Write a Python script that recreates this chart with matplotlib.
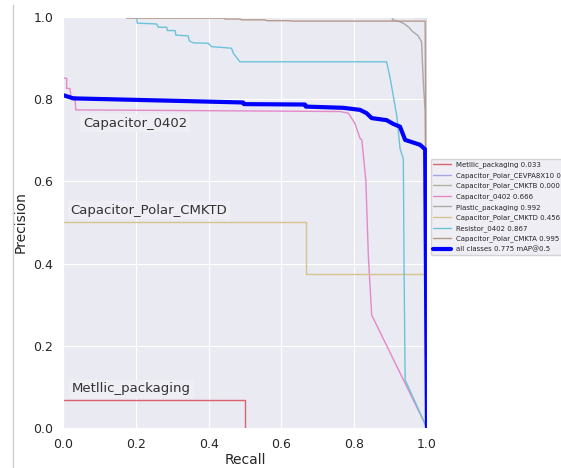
import matplotlib
matplotlib.use("Agg")
import matplotlib.pyplot as plt
import seaborn as sns
from matplotlib.lines import Line2D

sns.set_style("darkgrid")
plt.rcParams['font.family'] = ['DejaVu Sans']

# per-class PR curves
names = ["Metllic_packaging", "Capacitor_Polar_CEVPA8X10", "Capacitor_Polar_CMKTB",
         "Capacitor_0402", "Plastic_packaging", "Capacitor_Polar_CMKTD",
         "Resistor_0402", "Capacitor_Polar_CMKTA"]
ap = [0.033, 0.000, 0.000, 0.666, 0.992, 0.456, 0.867, 0.995]
colors = ["#d9646e", "#a8a4e6", "#b4ada2", "#e488c8", "#a9a9a9", "#d5c48e",
          "#6cc3d8", "#b59a8c"]

metllic_r = [0.0, 0.5, 0.5]
metllic_p = [0.067, 0.067, 0.0]

cevpa_r = [0.965, 1.0, 1.0]
cevpa_p = [1.0, 1.0, 0.0]

cmktb_r = [1.0, 1.0]
cmktb_p = [1.0, 0.0]

c0402_r = [0.0, 0.0, 0.010, 0.010, 0.019, 0.022, 0.033, 0.035, 0.40, 0.761, 0.784,
           0.802, 0.816, 0.821, 0.827, 0.832, 0.839, 0.848, 1.0]
c0402_p = [1.0, 0.851, 0.851, 0.826, 0.826, 0.806, 0.806, 0.774, 0.772, 0.770, 0.766,
           0.741, 0.705, 0.701, 0.648, 0.603, 0.417, 0.275, 0.0]

plastic_r = [0.905, 0.905, 0.92, 0.935, 0.95, 0.96, 0.975, 0.985, 0.99, 0.995, 1.0]
plastic_p = [1.0, 0.993, 0.99, 0.985, 0.975, 0.965, 0.955, 0.94, 0.84, 0.77, 0.0]

cmktd_r = [0.0, 0.667, 0.667, 1.0, 1.0]
cmktd_p = [0.5, 0.5, 0.375, 0.375, 0.0]

res_r = [0.202, 0.204, 0.257, 0.262, 0.285, 0.287, 0.308, 0.310, 0.344, 0.347, 0.358,
         0.399, 0.408, 0.463, 0.468, 0.486, 0.889, 0.898, 0.907, 0.917, 0.926, 0.935,
         0.937, 0.940, 1.0]
res_p = [1.0, 0.985, 0.983, 0.975, 0.975, 0.967, 0.967, 0.956, 0.954, 0.942, 0.937,
         0.936, 0.928, 0.924, 0.912, 0.891, 0.891, 0.855, 0.810, 0.760, 0.680, 0.655,
         0.392, 0.117, 0.0]

cmkta_r = [0.175, 0.445, 0.445, 0.486, 0.49, 0.555, 0.56, 0.62, 0.63, 0.995, 1.0]
cmkta_p = [0.997, 0.997, 0.995, 0.995, 0.993, 0.993, 0.991, 0.991, 0.990, 0.990, 0.0]

all_r = [0.0, 0.028, 0.495, 0.497, 0.665, 0.667, 0.770, 0.816, 0.834, 0.848, 0.889,
         0.907, 0.926, 0.940, 0.981, 0.995, 1.0]
all_p = [0.810, 0.802, 0.792, 0.788, 0.787, 0.782, 0.779, 0.774, 0.766, 0.754, 0.749,
         0.740, 0.733, 0.701, 0.689, 0.678, 0.0]

curves = [(metllic_r, metllic_p), (cevpa_r, cevpa_p), (cmktb_r, cmktb_p),
          (c0402_r, c0402_p), (plastic_r, plastic_p), (cmktd_r, cmktd_p),
          (res_r, res_p), (cmkta_r, cmkta_p)]

fig = plt.figure(figsize=(5.61, 4.68), dpi=100)
ax = fig.add_axes([0.1123, 0.0855, 0.6488, 0.8782])

for (r, p), n, a, c in zip(curves, names, ap, colors):
    ax.plot(r, p, color=c, linewidth=1, label=f"{n} {a:.3f}")
ax.plot(all_r, all_p, color="blue", linewidth=3, label="all classes 0.775 mAP@0.5")

ax.set_xlim(0, 1)
ax.set_ylim(0, 1)
ax.set_xlabel("Recall", fontsize=10, labelpad=2)
ax.set_ylabel("Precision", fontsize=10, labelpad=4)
ax.tick_params(labelsize=9)

box = dict(boxstyle="square,pad=0.2", facecolor="#eeeef4", edgecolor="none")
ax.text(0.055, 0.742, "Capacitor_0402", fontsize=9.5, color="#333333", va="center", bbox=box)
ax.text(0.02, 0.53, "Capacitor_Polar_CMKTD", fontsize=9.5, color="#333333", va="center", bbox=box)
ax.text(0.025, 0.095, "Metllic_packaging", fontsize=9.5, color="#333333", va="center", bbox=box)

ax.legend(loc="upper left", bbox_to_anchor=(1.01, 0.655), fontsize=5, frameon=True,
          handlelength=2.5, borderaxespad=0, labelspacing=0.55)

fig.add_artist(Line2D([0.023, 0.023], [0.0, 0.99], transform=fig.transFigure,
                      color="#cfcfcf", linewidth=1))

fig.savefig("out.png", dpi=100)
